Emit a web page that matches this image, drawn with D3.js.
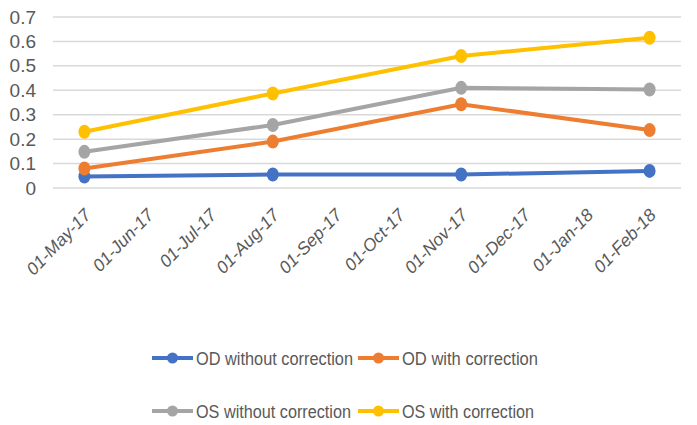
<!DOCTYPE html>
<html lang="en">
<head>
<meta charset="UTF-8">
<script src="https://d3js.org/d3.v7.min.js"></script>
<title>Chart</title>
<style>
  body { margin: 0; background: #fff; }
  svg { display: block; }
  text { font-family: "Liberation Sans", "DejaVu Sans", sans-serif; fill: #595959; }
</style>
</head>
<body>
<svg id="chart" width="697" height="425"></svg>
<script>
// x axis months (date axis shown as categories)
var months = ["01-May-17","01-Jun-17","01-Jul-17","01-Aug-17","01-Sep-17","01-Oct-17","01-Nov-17","01-Dec-17","01-Jan-18","01-Feb-18"];
// dates that have measurements
var dates = ["01-May-17","01-Aug-17","01-Nov-17","01-Feb-18"];
var odWithout = [0.047, 0.055, 0.055, 0.07];
var odWith    = [0.08, 0.19, 0.343, 0.237];
var osWithout = [0.148, 0.258, 0.41, 0.403];
var osWith    = [0.23, 0.387, 0.54, 0.615];
var yTicks = [0,0.1,0.2,0.3,0.4,0.5,0.6,0.7];

var series = [
  {name:"OD without correction", values: odWithout, color:"#4472C4"},
  {name:"OD with correction", values: odWith, color:"#ED7D31"},
  {name:"OS without correction", values: osWithout, color:"#A5A5A5"},
  {name:"OS with correction", values: osWith, color:"#FFC000"}
];

var svg = d3.select("#chart");

var x = d3.scalePoint().domain(months).range([53, 681]).padding(0.5);
var y = d3.scaleLinear().domain([0, 0.7]).range([188, 17]);

// gridlines
svg.append("g")
  .selectAll("line")
  .data(yTicks)
  .enter()
  .append("line")
  .attr("x1", 53).attr("x2", 681)
  .attr("y1", function(d){ return y(d); })
  .attr("y2", function(d){ return y(d); })
  .attr("stroke", "#d9d9d9")
  .attr("stroke-width", 1.5);

// y axis labels
var yAxis = d3.axisLeft(y).tickValues(yTicks).tickSize(0).tickPadding(0)
  .tickFormat(function(d){ return d === 0 ? "0" : d3.format(".1f")(d); });
svg.append("g")
  .attr("transform", "translate(36,0)")
  .call(yAxis)
  .call(function(g){ g.select(".domain").remove(); })
  .selectAll("text")
  .style("font-size", "19px")
  .attr("fill", "#595959");

// x axis labels
var xAxis = d3.axisBottom(x).tickSize(0).tickPadding(0);
svg.append("g")
  .attr("transform", "translate(0,188)")
  .call(xAxis)
  .call(function(g){ g.select(".domain").remove(); })
  .selectAll("text")
  .style("font-size", "17.5px")
  .style("font-style", "italic")
  .attr("fill", "#595959")
  .attr("text-anchor", "end")
  .attr("dy", "0")
  .attr("transform", "translate(7,28) rotate(-46)");

// lines
var line = d3.line()
  .x(function(d,i){ return x(dates[i]); })
  .y(function(d){ return y(d); });

series.forEach(function(s){
  svg.append("path")
    .datum(s.values)
    .attr("fill", "none")
    .attr("stroke", s.color)
    .attr("stroke-width", 4)
    .attr("d", line);
  svg.selectAll(null)
    .data(s.values)
    .enter()
    .append("ellipse")
    .attr("cx", function(d,i){ return x(dates[i]); })
    .attr("cy", function(d){ return y(d); })
    .attr("rx", 6).attr("ry", 7)
    .attr("fill", s.color);
});

// legend
var legendPos = [[152,358],[358,358],[152,411],[358,411]];
var legendWidth = [157, 136, 155, 132];
series.forEach(function(s, i){
  var g = svg.append("g").attr("transform", "translate(" + legendPos[i][0] + "," + legendPos[i][1] + ")");
  g.append("line").attr("x1", 0).attr("x2", 41).attr("y1", 0).attr("y2", 0)
    .attr("stroke", s.color).attr("stroke-width", 4);
  g.append("circle").attr("cx", 20.5).attr("cy", 0).attr("r", 5.5).attr("fill", s.color);
  g.append("text").attr("x", 44).attr("y", 6.5).style("font-size", "18px")
    .attr("textLength", legendWidth[i]).attr("lengthAdjust", "spacingAndGlyphs")
    .text(s.name);
});
</script>
</body>
</html>
